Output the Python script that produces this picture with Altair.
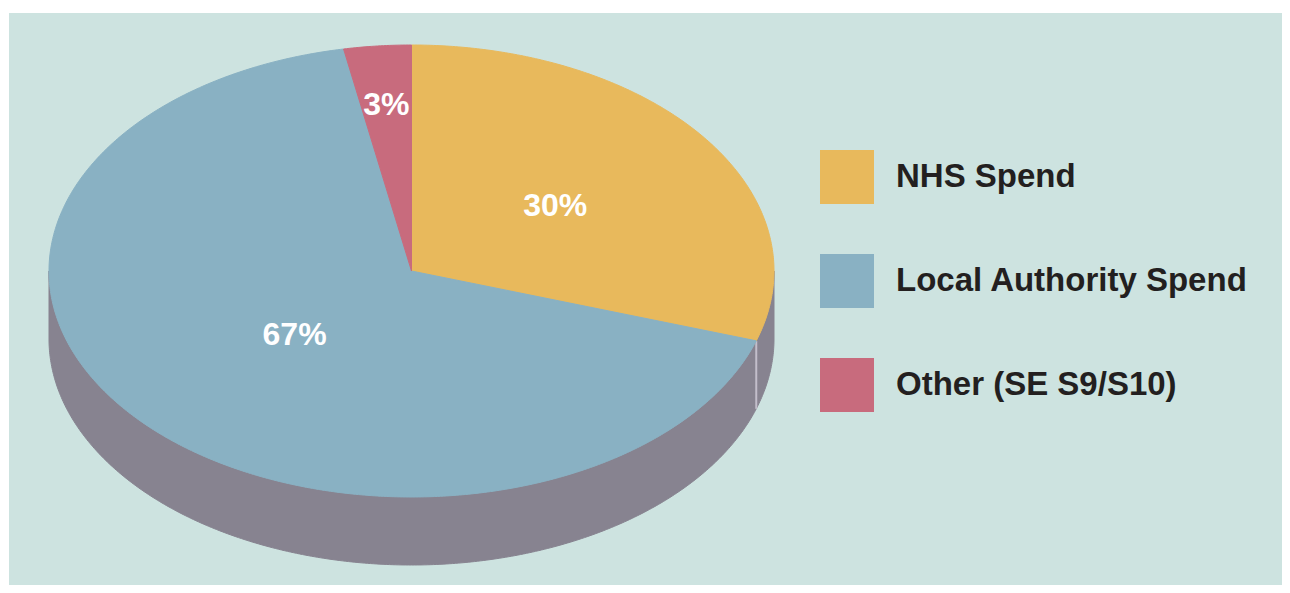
import altair as alt
import numpy as np
import pandas as pd

# ---- data ----
categories = ["NHS Spend", "Local Authority Spend", "Other (SE S9/S10)"]
shares = [30, 67, 3]
pct_labels = ["30%", "67%", "3%"]

# ---- style ----
colors = ["#E8B95C", "#89B1C3", "#C86B7D"]
WALL = "#878390"
SEAM = "#C3BECB"
BG = "#CDE3E0"
TEXT = "#231F20"
FONT = "Liberation Sans"

# ---- layout (view pixel units) ----
VIEW_W, VIEW_H = 1273, 572
CX, CY = 402.5, 258.0        # centre of the top face
RX, RY = 362.5, 226.0        # ellipse radii of the top face
DEPTH = 68.0                 # thickness of the 3D side
LABEL_R = [0.49, 0.43, 0.74]  # label distance from centre (fraction of radius)


def pt(theta_deg, dy=0.0):
    t = np.radians(theta_deg)
    return CX + RX * np.sin(t), CY - RY * np.cos(t) + dy


total = float(sum(shares))

# top-face slice polygons
slice_rows = []
label_rows = []
seam_rows = []
cum = 0.0
for k, (cat, share) in enumerate(zip(categories, shares)):
    a0 = cum / total * 360.0
    a1 = (cum + share) / total * 360.0
    n = max(2, int(np.ceil((a1 - a0) / 0.5)))
    angs = np.linspace(a0, a1, n + 1)
    i = 0
    slice_rows.append({"cat": cat, "i": i, "x": CX, "y": CY}); i += 1
    for a in angs:
        x, y = pt(a)
        slice_rows.append({"cat": cat, "i": i, "x": x, "y": y}); i += 1
    slice_rows.append({"cat": cat, "i": i, "x": CX, "y": CY})
    mid = (a0 + a1) / 2.0
    t = np.radians(mid)
    label_rows.append({
        "label": pct_labels[k],
        "x": CX + LABEL_R[k] * RX * np.sin(t),
        "y": CY - LABEL_R[k] * RY * np.cos(t),
    })
    if 90.0 < a1 < 270.0:
        x, y = pt(a1)
        seam_rows.append({"x": x, "y": y, "y2": y + DEPTH})
    cum += share

slices = pd.DataFrame(slice_rows)
labels_df = pd.DataFrame(label_rows)
seams = pd.DataFrame(seam_rows)

# side wall polygon (front half of the ellipse, extruded downwards)
wall_rows = []
j = 0
for a in np.arange(90.0, 270.0 + 0.25, 0.5):
    x, y = pt(a)
    wall_rows.append({"i": j, "x": x, "y": y}); j += 1
for a in np.arange(270.0, 90.0 - 0.25, -0.5):
    x, y = pt(a, DEPTH)
    wall_rows.append({"i": j, "x": x, "y": y}); j += 1
x, y = pt(90.0)
wall_rows.append({"i": j, "x": x, "y": y})
wall = pd.DataFrame(wall_rows)

xs = alt.Scale(domain=[0, VIEW_W], nice=False, zero=False)
ys = alt.Scale(domain=[0, VIEW_H], nice=False, zero=False, reverse=True)
X = alt.X("x:Q", scale=xs, axis=None)
Y = alt.Y("y:Q", scale=ys, axis=None)

wall_layer = alt.Chart(wall).mark_line(
    fill=WALL, stroke=WALL, strokeWidth=1
).encode(x=X, y=Y, order=alt.Order("i:Q"))

seam_layer = alt.Chart(seams).mark_rule(color=SEAM, strokeWidth=2).encode(
    x=X, y=Y, y2="y2:Q"
)

color_scale = alt.Scale(domain=categories, range=colors)
top_layer = alt.Chart(slices).mark_line(strokeWidth=1).encode(
    x=X,
    y=Y,
    order=alt.Order("i:Q"),
    fill=alt.Fill(
        "cat:N",
        scale=color_scale,
        sort=categories,
        legend=alt.Legend(
            title=None,
            orient="none",
            legendX=811,
            legendY=137,
            symbolType="square",
            symbolSize=2916,
            symbolStrokeWidth=0,
            symbolOpacity=1,
            labelFont=FONT,
            labelFontSize=33,
            labelFontWeight="bold",
            labelColor=TEXT,
            labelOffset=22,
            labelLimit=0,
            rowPadding=50,
            padding=0,
        ),
    ),
    stroke=alt.Stroke("cat:N", scale=color_scale, legend=None),
)

text_layer = alt.Chart(labels_df).mark_text(
    font=FONT, fontSize=32, fontWeight="bold", color="white",
    align="center", baseline="middle"
).encode(x=X, y=Y, text="label:N")

chart = (
    alt.layer(wall_layer, seam_layer, top_layer, text_layer)
    .properties(
        width=VIEW_W,
        height=VIEW_H,
        autosize=alt.AutoSizeParams(type="none"),
        padding={"left": 1, "top": 5, "right": 0, "bottom": 0},
        background="white",
    )
    .configure_view(fill=BG, strokeWidth=0)
)

chart.save("out.html", embed_options={"renderer": "svg", "actions": False})
